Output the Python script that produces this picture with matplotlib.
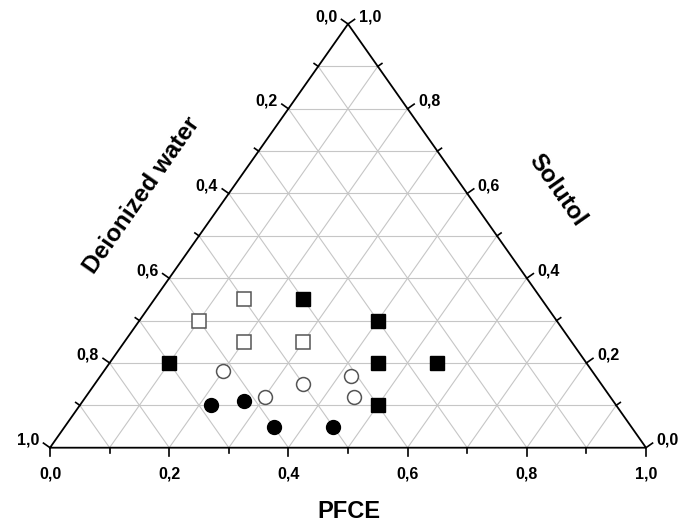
import matplotlib.pyplot as plt
import numpy as np

plt.rcParams['font.family'] = ['Liberation Sans', 'DejaVu Sans']

# compositions (fractions): PFCE, Solutol (water = rest)
open_sq_pfce = [0.15, 0.10, 0.20, 0.30]
open_sq_sol = [0.35, 0.30, 0.25, 0.25]

black_sq_pfce = [0.25, 0.40, 0.10, 0.45, 0.55, 0.50]
black_sq_sol = [0.35, 0.30, 0.20, 0.20, 0.20, 0.10]

open_ci_pfce = [0.20, 0.35, 0.30, 0.42, 0.45]
open_ci_sol = [0.18, 0.15, 0.12, 0.17, 0.12]

black_ci_pfce = [0.22, 0.27, 0.35, 0.45]
black_ci_sol = [0.10, 0.11, 0.05, 0.05]

tick_vals = [0.0, 0.2, 0.4, 0.6, 0.8, 1.0]
tick_labels = ['0,0', '0,2', '0,4', '0,6', '0,8', '1,0']

# where the triangle sits in the picture (pixels)
X0, XW = 50.0, 596.0
Y0, YH = 447.7, 423.7
W, H = 686, 529

fig = plt.figure(figsize=(W / 100, H / 100), dpi=100)
ax = fig.add_axes([0, 0, 1, 1])
ax.set_xlim(-X0 / XW, (W - X0) / XW)
ax.set_ylim((Y0 - H) / YH, Y0 / YH)
ax.axis('off')


def tern(p, s):
    p = np.asarray(p, dtype=float)
    s = np.asarray(s, dtype=float)
    return p + s / 2, s


def off(dx, dy):
    # pixel offset -> data offset
    return dx / XW, dy / YH


def from_px(x, y):
    return (x - X0) / XW, (Y0 - y) / YH


# grid
gc = '#c6c6c6'
for v in np.arange(0.1, 0.95, 0.1):
    ax.plot(*tern([0, 1 - v], [v, v]), color=gc, lw=0.8, zorder=1)
    ax.plot(*tern([v, v], [0, 1 - v]), color=gc, lw=0.8, zorder=1)
    ax.plot(*tern([1 - v, 0], [0, 1 - v]), color=gc, lw=0.8, zorder=1)

# frame
ax.plot(*tern([0, 1, 0, 0], [0, 0, 1, 0]), color='k', lw=1.3, zorder=2,
        solid_joinstyle='miter')

# ticks and labels
nl = np.array([-YH, XW / 2]); nl /= np.hypot(*nl)
nr = np.array([YH, XW / 2]); nr /= np.hypot(*nr)
lab_kw = dict(fontsize=11.5, fontweight='bold')
for k in range(11):
    v = k / 10
    L = 8 if k % 2 == 0 else 5
    # bottom (PFCE)
    x, y = tern(v, 0)
    dx, dy = off(0, -L)
    ax.plot([x, x + dx], [y, y + dy], color='k', lw=1.2)
    # left (water)
    x, y = tern(0, 1 - v)
    dx, dy = off(*(nl * L))
    ax.plot([x, x + dx], [y, y + dy], color='k', lw=1.2)
    # right (Solutol)
    x, y = tern(1 - v, v)
    dx, dy = off(*(nr * L))
    ax.plot([x, x + dx], [y, y + dy], color='k', lw=1.2)

for v, lab in zip(tick_vals, tick_labels):
    x, y = tern(v, 0)
    dx, dy = off(0, -26)
    ax.text(x + dx, y + dy, lab, ha='center', va='center', **lab_kw)
    x, y = tern(0, 1 - v)
    dx, dy = off(*(nl * 13))
    ax.text(x + dx, y + dy, lab, ha='right', va='center', **lab_kw)
    x, y = tern(1 - v, v)
    dx, dy = off(*(nr * 13))
    ax.text(x + dx, y + dy, lab, ha='left', va='center', **lab_kw)

# axis titles
ax.text(*from_px(142, 195), 'Deionized water', rotation=55, ha='center',
        va='center', rotation_mode='anchor', fontsize=17.5, fontweight='bold')
ax.text(*from_px(557, 190), 'Solutol', rotation=-55, ha='center',
        va='center', rotation_mode='anchor', fontsize=17.5, fontweight='bold')
ax.text(*from_px(349, 511), 'PFCE', ha='center', va='center',
        fontsize=17, fontweight='bold')

# data
ax.plot(*tern(open_sq_pfce, open_sq_sol), 's', ms=9.5, mfc='white',
        mec='#555555', mew=1.1, zorder=3)
ax.plot(*tern(black_sq_pfce, black_sq_sol), 's', ms=9.5, color='k', zorder=3)
ax.plot(*tern(open_ci_pfce, open_ci_sol), 'o', ms=10, mfc='white',
        mec='#555555', mew=1.1, zorder=3)
ax.plot(*tern(black_ci_pfce, black_ci_sol), 'o', ms=10, color='k', zorder=3)

fig.savefig('out.png', dpi=100)
